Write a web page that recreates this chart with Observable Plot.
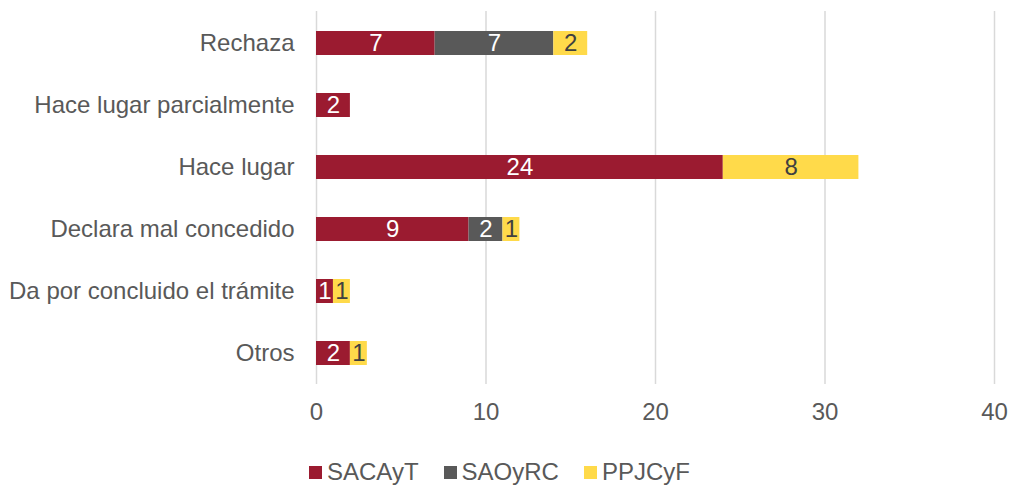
<!DOCTYPE html>
<html>
<head>
<meta charset="utf-8">
<script src="https://cdn.jsdelivr.net/npm/d3@7"></script>
<script src="https://cdn.jsdelivr.net/npm/@observablehq/plot@0.6"></script>
<style>
  html, body { margin: 0; padding: 0; background: #fff; }
  #chart { width: 1015px; }
  .legend { display: flex; align-items: center; margin-left: 309px; margin-top: 18px; line-height: 28px;
    font-family: "Liberation Sans", Arial, sans-serif; font-size: 24px; color: #595959; }
  .legend .item { display: flex; align-items: center; margin-right: 25px; }
  .legend .sw { width: 13px; height: 13px; margin-right: 5px; }
</style>
</head>
<body>
<div id="chart"></div>
<script>
const categories = ["Rechaza", "Hace lugar parcialmente", "Hace lugar", "Declara mal concedido", "Da por concluido el trámite", "Otros"];
const seriesNames = ["SACAyT", "SAOyRC", "PPJCyF"];
const sacayt = [7, 2, 24, 9, 1, 2];
const saoyrc = [7, 0, 0, 2, 0, 0];
const ppjcyf = [2, 0, 8, 1, 1, 1];
const colors = ["#9b1b30", "#595959", "#ffda4a"];
const xTicks = [0, 10, 20, 30, 40];

const seriesValues = [sacayt, saoyrc, ppjcyf];
const data = [];
categories.forEach((c, i) => {
  seriesNames.forEach((s, j) => {
    const v = seriesValues[j][i];
    if (v > 0) data.push({category: c, series: s, value: v});
  });
});

const chart = Plot.plot({
  width: 1015,
  height: 440,
  marginTop: 11,
  marginBottom: 56,
  marginLeft: 316,
  marginRight: 21,
  style: {fontFamily: "'Liberation Sans', Arial, sans-serif", fontSize: "24px", color: "#595959", background: "#fff"},
  x: {domain: [0, 40], ticks: xTicks, tickSize: 0, tickPadding: 18, label: null},
  y: {domain: categories, paddingInner: 0.614, paddingOuter: 0.305, tickSize: 0, tickPadding: 22, label: null},
  color: {domain: seriesNames, range: colors},
  marks: [
    Plot.gridX(xTicks, {stroke: "#d9d9d9", strokeOpacity: 1, strokeWidth: 1.5}),
    Plot.barX(data, Plot.stackX({x: "value", y: "category", z: "series", fill: "series", order: seriesNames})),
    Plot.text(data, Plot.stackX({x: "value", y: "category", z: "series", order: seriesNames, text: d => String(d.value),
      fill: d => d.series === "PPJCyF" ? "#404040" : "#ffffff", fontSize: 24}))
  ]
});
document.getElementById("chart").appendChild(chart);

const legend = document.createElement("div");
legend.className = "legend";
seriesNames.forEach((s, i) => {
  const it = document.createElement("div");
  it.className = "item";
  const sw = document.createElement("span");
  sw.className = "sw";
  sw.style.background = colors[i];
  const t = document.createElement("span");
  t.textContent = s;
  it.appendChild(sw); it.appendChild(t);
  legend.appendChild(it);
});
document.getElementById("chart").appendChild(legend);
</script>
</body>
</html>
